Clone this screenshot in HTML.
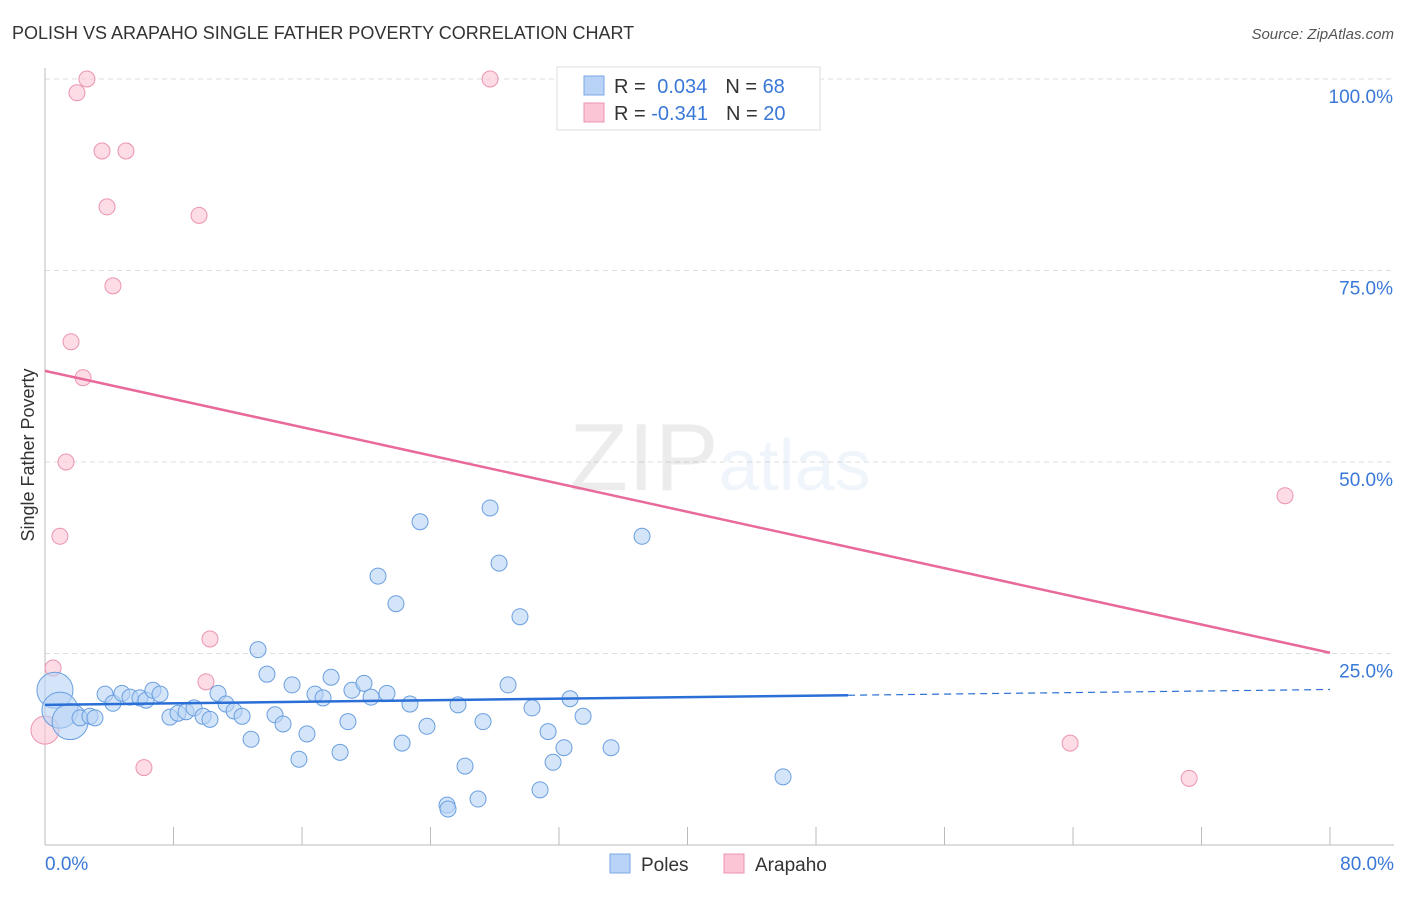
<!DOCTYPE html>
<html><head><meta charset="utf-8"><style>
body{margin:0;background:#fff;font-family:"Liberation Sans",sans-serif;}
svg text{font-family:"Liberation Sans",sans-serif;}
</style></head><body>
<svg id="chart" width="1406" height="892" xmlns="http://www.w3.org/2000/svg">
<text x="12" y="39" font-size="18" fill="#333">POLISH VS ARAPAHO SINGLE FATHER POVERTY CORRELATION CHART</text>
<text x="1394" y="39" font-size="15" fill="#555" text-anchor="end" font-style="italic">Source: ZipAtlas.com</text>
<g id="grid"></g>
<text x="720" y="490" font-size="96" text-anchor="middle" fill="#000" opacity="0.07" font-family="Liberation Serif">ZIP<tspan fill="#3d7fd9" opacity="1.6" font-family="Liberation Sans" font-size="72">atlas</tspan></text>
<g id="marks"></g>
<text x="34" y="455" font-size="18" fill="#333" text-anchor="middle" transform="rotate(-90 34 455)">Single Father Poverty</text>
<g>
<rect x="557" y="67" width="263" height="63" fill="#fff" stroke="#ddd"/>
<rect x="584" y="76" width="20" height="19" fill="#b8d3f5" stroke="#7aaae6"/>
<rect x="584" y="103" width="20" height="19" fill="#fcc5d5" stroke="#eb94b0"/>
<text x="614" y="93" font-size="20" fill="#333">R = <tspan fill="#3a78d8" dx="6">0.034</tspan><tspan dx="18">N = </tspan><tspan fill="#3a78d8">68</tspan></text>
<text x="614" y="120" font-size="20" fill="#333">R = <tspan fill="#3a78d8">-0.341</tspan><tspan dx="18">N = </tspan><tspan fill="#3a78d8">20</tspan></text>
</g>
<g>
<rect x="610" y="854" width="20" height="19" fill="#b8d3f5" stroke="#7aaae6"/>
<text x="641" y="871" font-size="19" fill="#333">Poles</text>
<rect x="724" y="854" width="20" height="19" fill="#fcc5d5" stroke="#eb94b0"/>
<text x="755" y="871" font-size="19" fill="#333">Arapaho</text>
</g>
</svg>
<script>
const yTicks=[25,50,75,100];
const yTickLabels=["25.0%","50.0%","75.0%","100.0%"];
const xTicks=[0,8,16,24,32,40,48,56,64,72,80];
const polesX=[0.62,0.93,1.56,2.18,2.80,3.11,3.74,4.23,4.79,5.29,5.91,6.29,6.72,7.16,7.78,8.28,8.78,9.28,9.84,10.27,10.77,11.27,11.77,12.27,12.83,13.26,13.82,14.32,14.82,15.38,15.81,16.31,16.81,17.31,17.81,18.37,18.86,19.11,19.86,20.30,20.73,21.29,21.85,22.23,22.72,23.35,23.78,25.03,25.09,25.71,26.15,26.96,27.27,27.71,28.27,28.83,29.57,30.32,30.82,31.32,31.63,32.31,32.69,33.50,35.24,37.17,45.95];
const polesY=[20.2,17.6,16.1,16.6,16.8,16.6,19.7,18.5,19.8,19.3,19.2,18.9,20.2,19.7,16.7,17.2,17.4,17.9,16.8,16.4,19.8,18.4,17.5,16.8,13.8,25.5,22.3,17.0,15.8,20.9,11.2,14.5,19.7,19.2,21.9,12.1,16.1,20.2,21.1,19.3,35.1,19.8,31.5,13.3,18.4,42.2,15.5,5.2,4.7,18.3,10.3,6.0,16.1,44.0,36.8,20.9,29.8,17.9,7.2,14.8,10.8,12.7,19.1,16.8,12.7,40.3,8.9];
const arapahoX=[0,0.5,0.93,1.31,1.62,1.99,2.37,2.61,3.55,3.86,4.23,5.04,6.16,9.59,10.02,10.27,27.71,63.82,71.23,77.20];
const arapahoY=[15.0,23.1,40.3,50.0,65.7,98.2,61.0,100,90.6,83.3,73.0,90.6,10.1,82.2,21.3,26.9,100,13.3,8.7,45.6];
const polesTrend=[18.3,20.3];
const arapahoTrend=[61.9,25.1];
const NS="http://www.w3.org/2000/svg";
const sx=v=>45+v/80*1285;
const sy=v=>845-v*7.66;
function mk(tag,attrs,parent){const e=document.createElementNS(NS,tag);for(const k in attrs)e.setAttribute(k,attrs[k]);parent.appendChild(e);return e;}
const grid=document.getElementById('grid'),marks=document.getElementById('marks');
yTicks.forEach((t,i)=>{
 const l=mk('line',{x1:45,x2:1394,y1:sy(t),y2:sy(t),stroke:'#ddd','stroke-dasharray':'5,4'},grid);
 
 
 const tx=mk('text',{x:1393,y:sy(t)+24,'font-size':19,fill:'#3a78d8','text-anchor':'end'},grid);
 tx.textContent=yTickLabels[i];
 
 
});
const ax=mk('line',{x1:45,x2:1394,y1:845,y2:845,stroke:'#bbb'},grid);


const ay=mk('line',{x1:45,x2:45,y1:68,y2:845,stroke:'#bbb'},grid);


xTicks.forEach(t=>{
 const l=mk('line',{x1:sx(t),x2:sx(t),y1:827,y2:845,stroke:'#bbb'},grid);
 
 
});
[[0,'0.0%','start',45],[80,'80.0%','end',1394]].forEach(d=>{
 const tx=mk('text',{x:d[3],y:870,'font-size':19,fill:'#3a78d8','text-anchor':d[2]},grid);
 tx.textContent=d[1];
 
 
});
arapahoX.forEach((x,i)=>{
 const c=mk('circle',{cx:sx(x),cy:sy(arapahoY[i]),r:i==0?14:8,fill:'#fcc5d5','fill-opacity':0.6,stroke:'#eb94b0','stroke-width':1},marks);
 
 
});
polesX.forEach((x,i)=>{
 const c=mk('circle',{cx:sx(x),cy:sy(polesY[i]),r:i<3?18:8,fill:'#b8d3f5','fill-opacity':0.6,stroke:'#6a9fe0','stroke-width':1},marks);
 
 
});
const pt=v=>polesTrend[0]+(polesTrend[1]-polesTrend[0])*v/80;
const l1=mk('line',{x1:sx(0),y1:sy(pt(0)),x2:sx(50),y2:sy(pt(50)),stroke:'#2a6fd6','stroke-width':2.5},marks);


const l2=mk('line',{x1:sx(50),y1:sy(pt(50)),x2:sx(80),y2:sy(pt(80)),stroke:'#2a6fd6','stroke-width':1.2,'stroke-dasharray':'7,5'},marks);


const l3=mk('line',{x1:sx(0),y1:sy(arapahoTrend[0]),x2:sx(80),y2:sy(arapahoTrend[1]),stroke:'#e8699a','stroke-width':2.5},marks);


</script>
</body></html>
